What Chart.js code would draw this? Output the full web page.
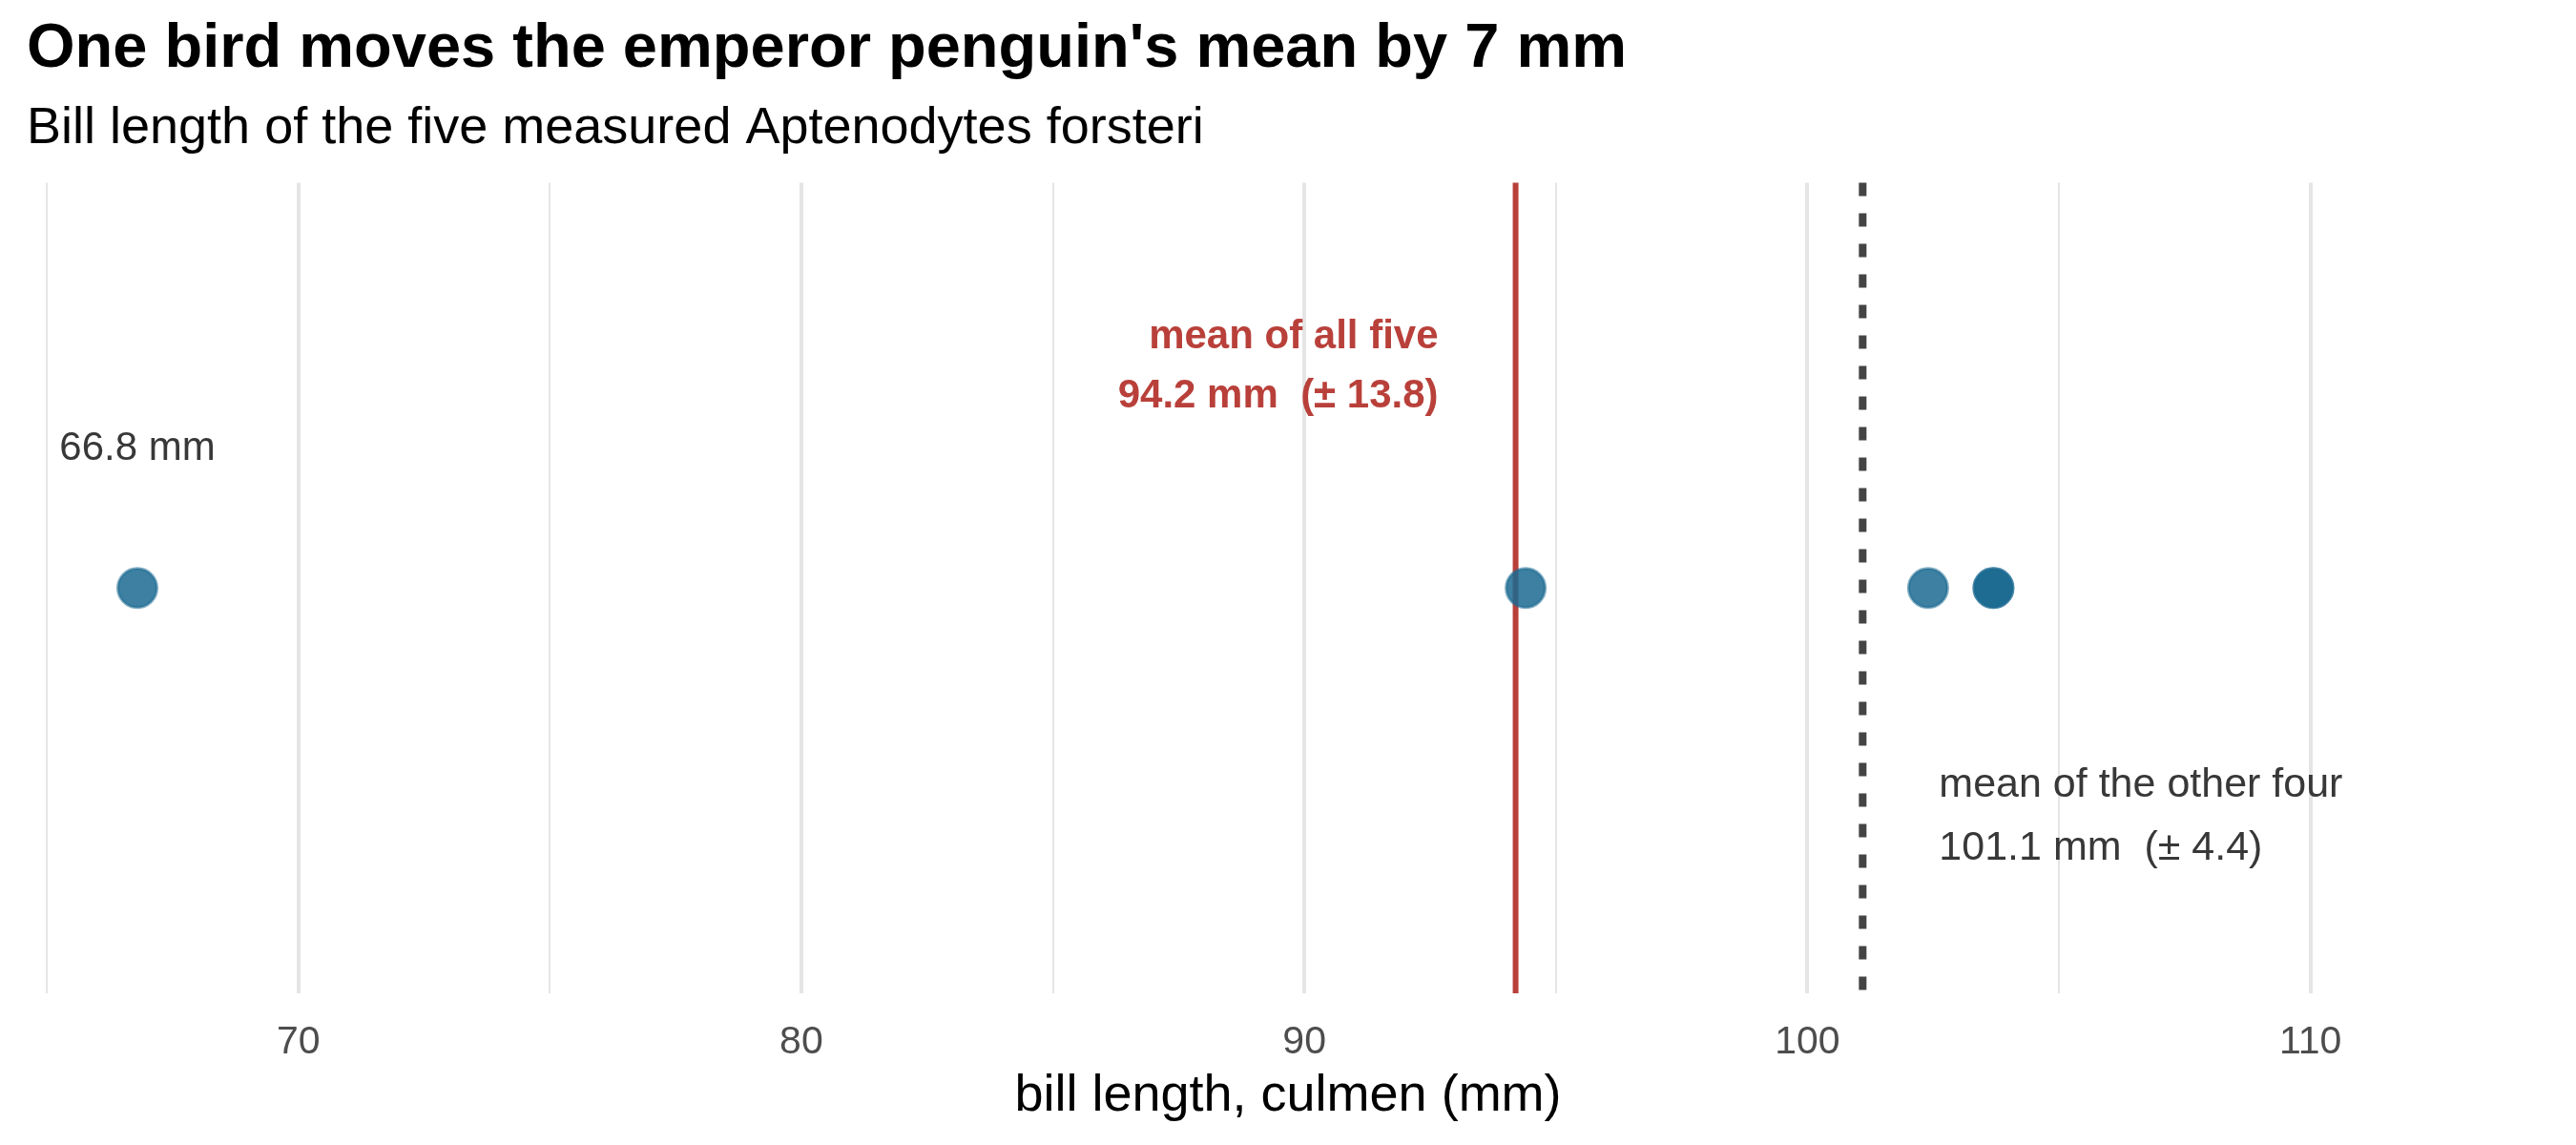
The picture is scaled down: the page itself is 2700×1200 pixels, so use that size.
<!DOCTYPE html>
<html>
<head>
<meta charset="utf-8">
<script src="https://cdn.jsdelivr.net/npm/chart.js@4/dist/chart.umd.min.js"></script>
<style>
  html, body { margin: 0; padding: 0; background: #ffffff; }
  #wrap { width: 2700px; height: 1200px; }
</style>
</head>
<body>
<div id="wrap"><canvas id="c" width="2700" height="1200"></canvas></div>
<script>
// ---- data ----
const birdLabels = ["bird 1", "bird 2", "bird 3", "bird 4", "bird 5"];
const billLength = [66.8, 94.4, 102.4, 103.7, 103.7];
const tickValues = [65, 70, 75, 80, 85, 90, 95, 100, 105, 110];
const meanAll = 94.2;
const sdAll = 13.8;
const meanOthers = 101.1;
const sdOthers = 4.4;
const outlierValue = 66.8;

const titleText = "One bird moves the emperor penguin's mean by 7 mm";
const subtitleText = "Bill length of the five measured Aptenodytes forsteri";
const xTitle = "bill length, culmen (mm)";

const FONT = "'Liberation Sans', Arial, Helvetica, sans-serif";
Chart.defaults.font.family = FONT;

const annotations = {
  id: 'annot',
  beforeDatasetsDraw(chart) {
    const ctx = chart.ctx, ca = chart.chartArea;
    const xs = chart.scales.x;
    ctx.save();
    const xr = xs.getPixelForValue(meanAll);
    ctx.strokeStyle = '#b9403a';
    ctx.lineWidth = 6;
    ctx.beginPath(); ctx.moveTo(xr, ca.top); ctx.lineTo(xr, ca.bottom); ctx.stroke();
    const xd = xs.getPixelForValue(meanOthers);
    ctx.strokeStyle = '#444444';
    ctx.lineWidth = 8;
    ctx.setLineDash([14, 18]);
    ctx.beginPath(); ctx.moveTo(xd, ca.top); ctx.lineTo(xd, ca.bottom); ctx.stroke();
    ctx.restore();
  },
  afterDatasetsDraw(chart) {
    const ctx = chart.ctx;
    const xs = chart.scales.x, ys = chart.scales.y;
    ctx.save();
    ctx.textBaseline = 'alphabetic';
    ctx.font = "42px " + FONT;
    ctx.fillStyle = '#383838';
    ctx.textAlign = 'center';
    ctx.fillText(outlierValue.toFixed(1) + " mm", xs.getPixelForValue(outlierValue), ys.getPixelForValue(0.658));
    const xr = xs.getPixelForValue(meanAll);
    ctx.font = "bold 42px " + FONT;
    ctx.fillStyle = '#b9403a';
    ctx.textAlign = 'right';
    ctx.fillText("mean of all five", xr - 81, ys.getPixelForValue(0.796));
    ctx.fillText(meanAll.toFixed(1) + " mm  (\u00b1 " + sdAll.toFixed(1) + ")", xr - 81, ys.getPixelForValue(0.723));
    const xd = xs.getPixelForValue(meanOthers);
    ctx.font = "43px " + FONT;
    ctx.fillStyle = '#383838';
    ctx.textAlign = 'left';
    ctx.fillText("mean of the other four", xd + 80, ys.getPixelForValue(0.242));
    ctx.fillText(meanOthers.toFixed(1) + " mm  (\u00b1 " + sdOthers.toFixed(1) + ")", xd + 80, ys.getPixelForValue(0.165));
    ctx.restore();
  }
};

new Chart(document.getElementById('c'), {
  type: 'scatter',
  data: {
    labels: birdLabels,
    datasets: [{
      label: 'bill length',
      data: billLength.map(v => ({ x: v, y: 0.5 })),
      backgroundColor: 'rgba(27,106,145,0.85)',
      borderColor: 'rgba(27,106,145,0.55)',
      borderWidth: 3,
      pointRadius: 20.5,
      pointHoverRadius: 20.5
    }]
  },
  options: {
    responsive: false,
    animation: false,
    events: [],
    layout: { padding: { left: 28, right: 28, top: 0, bottom: 0 } },
    plugins: {
      legend: { display: false },
      tooltip: { enabled: false },
      title: {
        display: true, text: titleText, align: 'start', color: '#000000',
        font: { size: 65, weight: 'bold', family: FONT, lineHeight: 1.2 },
        padding: { top: 13, bottom: 14 }
      },
      subtitle: {
        display: true, text: subtitleText, align: 'start', color: '#000000',
        font: { size: 54, weight: 'normal', family: FONT, lineHeight: 1.1 },
        padding: { top: 0, bottom: 27 }
      }
    },
    scales: {
      x: {
        type: 'linear',
        min: 64.6, max: 114.75,
        afterBuildTicks(scale) { scale.ticks = tickValues.map(v => ({ value: v })); },
        afterFit(scale) { scale.height = 159; },
        border: { display: false },
        grid: {
          drawTicks: false,
          color: '#e5e5e5',
          lineWidth: ctx => (ctx.tick && ctx.tick.value % 10 === 0) ? 4 : 2
        },
        ticks: {
          color: '#4d4d4d',
          font: { size: 41, family: FONT },
          padding: 27,
          maxRotation: 0,
          autoSkip: false,
          callback: v => (v % 10 === 0 ? String(v) : '')
        },
        title: {
          display: true, text: xTitle, color: '#000000',
          font: { size: 54, family: FONT },
          padding: { top: 0, bottom: 18 }
        }
      },
      y: {
        type: 'linear', min: 0, max: 1, display: false
      }
    }
  },
  plugins: [annotations]
});
</script>
</body>
</html>
